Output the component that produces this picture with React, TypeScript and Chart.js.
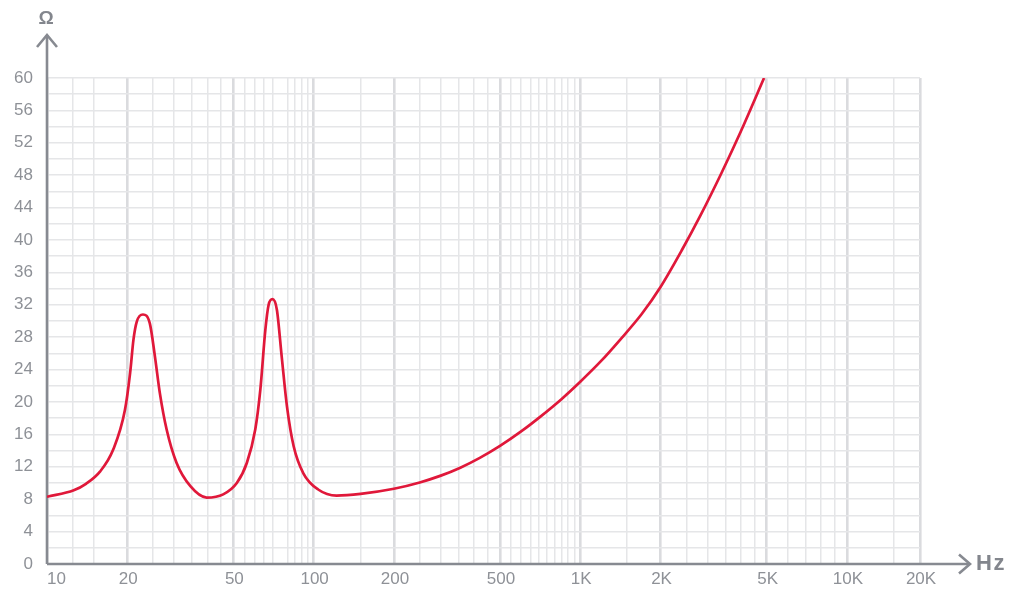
import React, { useEffect, useRef } from 'react';
import { Chart, registerables } from 'chart.js';

Chart.register(...registerables);

// Impedance curve (frequency in Hz, impedance in Ω)
const frequencies = [
  10, 12.6, 14, 15.8, 17.7, 19.6, 20.5, 21.1, 21.7, 22.9, 24.3, 25.4, 26.5, 28.1, 30.6, 34.5,
  39.7, 45.8, 51.5, 56.2, 60.4, 63.1, 65.9, 67.8, 70.1, 72.8, 75.9, 79.4, 84.2, 91.5, 104,
  122, 150, 200, 250, 300, 355, 420, 500, 600, 707, 850, 1000, 1200, 1410, 1700, 2000,
  2400, 2830, 3400, 4000, 4890,
];
const impedance = [
  8.3, 9.1, 9.9, 11.4, 14.1, 19.0, 23.6, 27.7, 29.9, 30.8, 29.7, 25.6, 21.1, 16.6, 12.5, 9.6,
  8.2, 8.6, 10.0, 12.5, 16.6, 21.5, 28.9, 32.0, 32.7, 31.4, 25.6, 19.5, 14.5, 11.2, 9.2,
  8.45, 8.66, 9.29, 10.07, 10.91, 11.89, 13.1, 14.58, 16.37, 18.17, 20.35, 22.5, 25.1, 27.68,
  30.86, 34.2, 38.7, 43.1, 48.4, 53.4, 60.0,
];

// Vertical grid lines (Hz) as drawn in the reference
const xGridValues = [
  10, 12.5, 15, 20, 25, 30, 35, 40, 45, 50, 55, 60, 65, 70, 80, 85, 90, 95, 100,
  150, 200, 250, 300, 350, 400, 450, 500, 550, 600, 650, 700, 750, 800, 850, 900, 950, 1000,
  1500, 2000, 2500, 3000, 3500, 4000, 4500, 5000, 6000, 7000, 8000, 9000, 10000,
  15000, 18800,
];
// Labelled (heavier) grid lines and their labels
const xLabelValues = [10, 20, 50, 100, 200, 500, 1000, 2000, 5000, 10000, 18800];
const xLabelTexts = ['10', '20', '50', '100', '200', '500', '1K', '2K', '5K', '10K', '20K'];

const yMin = 0;
const yMax = 60;
const yGridStep = 2;
const yLabelStep = 4;

const AXIS_COLOR = '#878a91';
const LABEL_COLOR = '#8e9197';
const GRID_MINOR = '#e5e6e8';
const GRID_MAJOR = '#dadbde';
const CURVE_COLOR = '#e0183a';
const FONT = '"Liberation Sans", Arial, Helvetica, sans-serif';

const axesPlugin = {
  id: 'axesArrows',
  beforeDatasetsDraw(chart: any) {
    const { ctx, chartArea: a } = chart;
    ctx.save();
    ctx.strokeStyle = AXIS_COLOR;
    ctx.lineWidth = 2.6;
    ctx.lineJoin = 'miter';
    // y axis with arrow
    ctx.beginPath();
    ctx.moveTo(a.left, a.bottom);
    ctx.lineTo(a.left, 35);
    ctx.stroke();
    ctx.beginPath();
    ctx.moveTo(a.left - 10, 47);
    ctx.lineTo(a.left, 35);
    ctx.lineTo(a.left + 10, 47);
    ctx.stroke();
    // x axis with arrow
    ctx.beginPath();
    ctx.moveTo(a.left, a.bottom);
    ctx.lineTo(969, a.bottom);
    ctx.stroke();
    ctx.beginPath();
    ctx.moveTo(959, a.bottom - 9.5);
    ctx.lineTo(970, a.bottom);
    ctx.lineTo(959, a.bottom + 9.5);
    ctx.stroke();
    ctx.restore();
  },
  afterDraw(chart: any) {
    const { ctx, chartArea: a, scales } = chart;
    const xs = scales.x;
    ctx.save();
    ctx.fillStyle = LABEL_COLOR;
    ctx.font = `17px ${FONT}`;
    ctx.textBaseline = 'middle';
    xLabelValues.forEach((v, i) => {
      const px = xs.getPixelForValue(v);
      ctx.textAlign = i === 0 ? 'left' : 'center';
      ctx.fillText(xLabelTexts[i], i === 0 ? px : px + 1, a.bottom + 15.5);
    });
    ctx.fillStyle = '#83868d';
    ctx.font = `bold 19px ${FONT}`;
    ctx.textAlign = 'center';
    ctx.fillText('Ω', a.left - 1, 18.5);
    ctx.font = `bold 22px ${FONT}`;
    (ctx as any).letterSpacing = '1.5px';
    ctx.textAlign = 'left';
    ctx.fillText('Hz', 976, a.bottom - 0.5);
    ctx.restore();
  },
};

export default function App() {
  const ref = useRef<HTMLCanvasElement>(null);

  useEffect(() => {
    if (!ref.current) return;
    const isMajor = (v: number) => xLabelValues.includes(v);
    const chart = new Chart(ref.current, {
      type: 'line',
      data: {
        datasets: [
          {
            data: frequencies.map((f, i) => ({ x: f, y: impedance[i] })),
            borderColor: CURVE_COLOR,
            borderWidth: 2.7,
            pointRadius: 0,
            fill: false,
            cubicInterpolationMode: 'monotone',
          },
        ],
      },
      options: {
        animation: false,
        responsive: false,
        maintainAspectRatio: false,
        layout: { padding: { top: 78, right: 94, bottom: 28, left: 0 } },
        plugins: { legend: { display: false }, tooltip: { enabled: false } },
        scales: {
          x: {
            type: 'logarithmic',
            min: xGridValues[0],
            max: xGridValues[xGridValues.length - 1],
            afterBuildTicks: (s: any) => {
              s.ticks = xGridValues.map((v) => ({ value: v }));
            },
            afterFit: (s: any) => {
              s.height = 0;
            },
            ticks: { display: false },
            border: { display: false },
            grid: {
              drawTicks: false,
              color: (c: any) => (c.tick && isMajor(c.tick.value) ? GRID_MAJOR : GRID_MINOR),
              lineWidth: (c: any) => (c.tick && isMajor(c.tick.value) ? 2.6 : 1.5),
            },
          },
          y: {
            min: yMin,
            max: yMax,
            afterFit: (s: any) => {
              s.width = 47;
            },
            ticks: {
              stepSize: yGridStep,
              autoSkip: false,
              padding: 14,
              color: LABEL_COLOR,
              font: { family: FONT, size: 17 },
              callback: (v: any) => (Number(v) % yLabelStep === 0 ? String(v) : ''),
            },
            border: { display: false },
            grid: {
              drawTicks: false,
              color: GRID_MINOR,
              lineWidth: 1.5,
            },
          },
        },
      },
      plugins: [axesPlugin],
    } as any);
    return () => chart.destroy();
  }, []);

  return (
    <div style={{ position: 'fixed', left: 0, top: 0, width: 1014, height: 592, background: '#ffffff' }}>
      <canvas ref={ref} width={1014} height={592} style={{ display: 'block' }} />
    </div>
  );
}
